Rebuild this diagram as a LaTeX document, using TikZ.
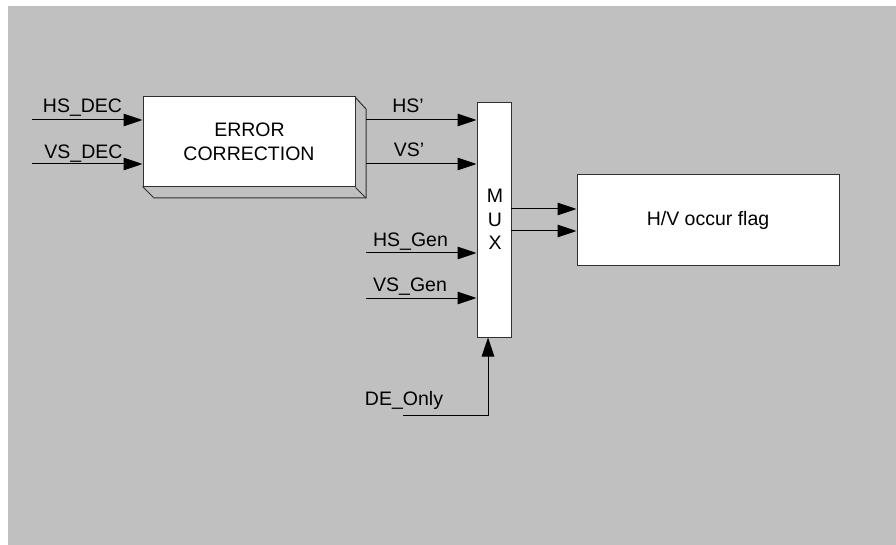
\documentclass[tikz,border=0pt]{standalone}
\usepackage{fontspec}
\setmainfont{Liberation Sans}
\usetikzlibrary{arrows.meta}
\definecolor{bggray}{HTML}{C0C0C0}
\definecolor{edge}{HTML}{303030}
\begin{document}
\begin{tikzpicture}[x=1pt,y=-1pt,
  font=\fontsize{19.5}{23}\selectfont,
  blk/.style={draw=edge, line width=1pt, fill=white, inner sep=0pt, align=center},
  sig/.style={draw=black, line width=1pt, -{Triangle[length=19pt,width=12.5pt]}},
  lbl/.style={anchor=base, inner sep=0pt}]
\useasboundingbox (0,0) rectangle (896,545);
\fill[white] (0,0) rectangle (896,545);
\fill[bggray] (8,6) rectangle (896,545);
% error correction block with extrusion
\draw[draw=edge, line width=1pt, fill=bggray] (355,97) -- (366,109) -- (366,198) -- (154,198) -- (143,187) -- cycle;
\node[blk, minimum width=212pt, minimum height=90pt] (ec) at (249,142) {};
\draw[draw=edge, line width=1pt] (ec.south east) -- (366,198);
\node[lbl] (ect1) at (249.5,136.7) {ERROR};
\node[lbl] (ect2) at (249,160.7) {CORRECTION};
% MUX
\node[blk, minimum width=34pt, minimum height=234pt] (mux) at (494,220) {};
\node[lbl] (m1) at (495,203) {M};
\node[lbl] (m2) at (495,227) {U};
\node[lbl] (m3) at (495,250) {X};
% H/V block
\node[blk, minimum width=262pt, minimum height=90pt] (hv) at (708,220) {H/V occur flag};
% inputs
\coordinate (hsdec) at (32,120);
\coordinate (vsdec) at (32,164);
\draw[sig] (hsdec) -- (hsdec -| ec.west);
\draw[sig] (vsdec) -- (vsdec -| ec.west);
\node[lbl] (lhsdec) at (82.5,113) {HS\_DEC};
\node[lbl] (lvsdec) at (83.5,158.7) {VS\_DEC};
% EC outputs
\coordinate (hsp) at (366,120);
\coordinate (vsp) at (366,164);
\draw[sig] (hsp) -- (hsp -| mux.west);
\draw[sig] (vsp) -- (vsp -| mux.west);
\node[lbl] (lhsp) at (408,112.7) {HS{\char39}};
\node[lbl] (lvsp) at (409,156.7) {VS{\char39}};
% gen inputs
\coordinate (hsgen) at (366,253);
\coordinate (vsgen) at (366,298);
\draw[sig] (hsgen) -- (hsgen -| mux.west);
\draw[sig] (vsgen) -- (vsgen -| mux.west);
\node[lbl] (lhsgen) at (410.5,246.7) {HS\_Gen};
\node[lbl] (lvsgen) at (410,291.7) {VS\_Gen};
% mux outputs
\coordinate (o1) at (511,209);
\coordinate (o2) at (511,231);
\draw[sig] (o1) -- (o1 -| hv.west);
\draw[sig] (o2) -- (o2 -| hv.west);
% DE_Only
\coordinate (deo) at (403,415);
\coordinate (dec) at (488,415);
\draw[sig] (deo) -- (dec) -- (dec |- mux.south);
\node[lbl] (ldeo) at (404,405) {DE\_Only};
\end{tikzpicture}
\end{document}
